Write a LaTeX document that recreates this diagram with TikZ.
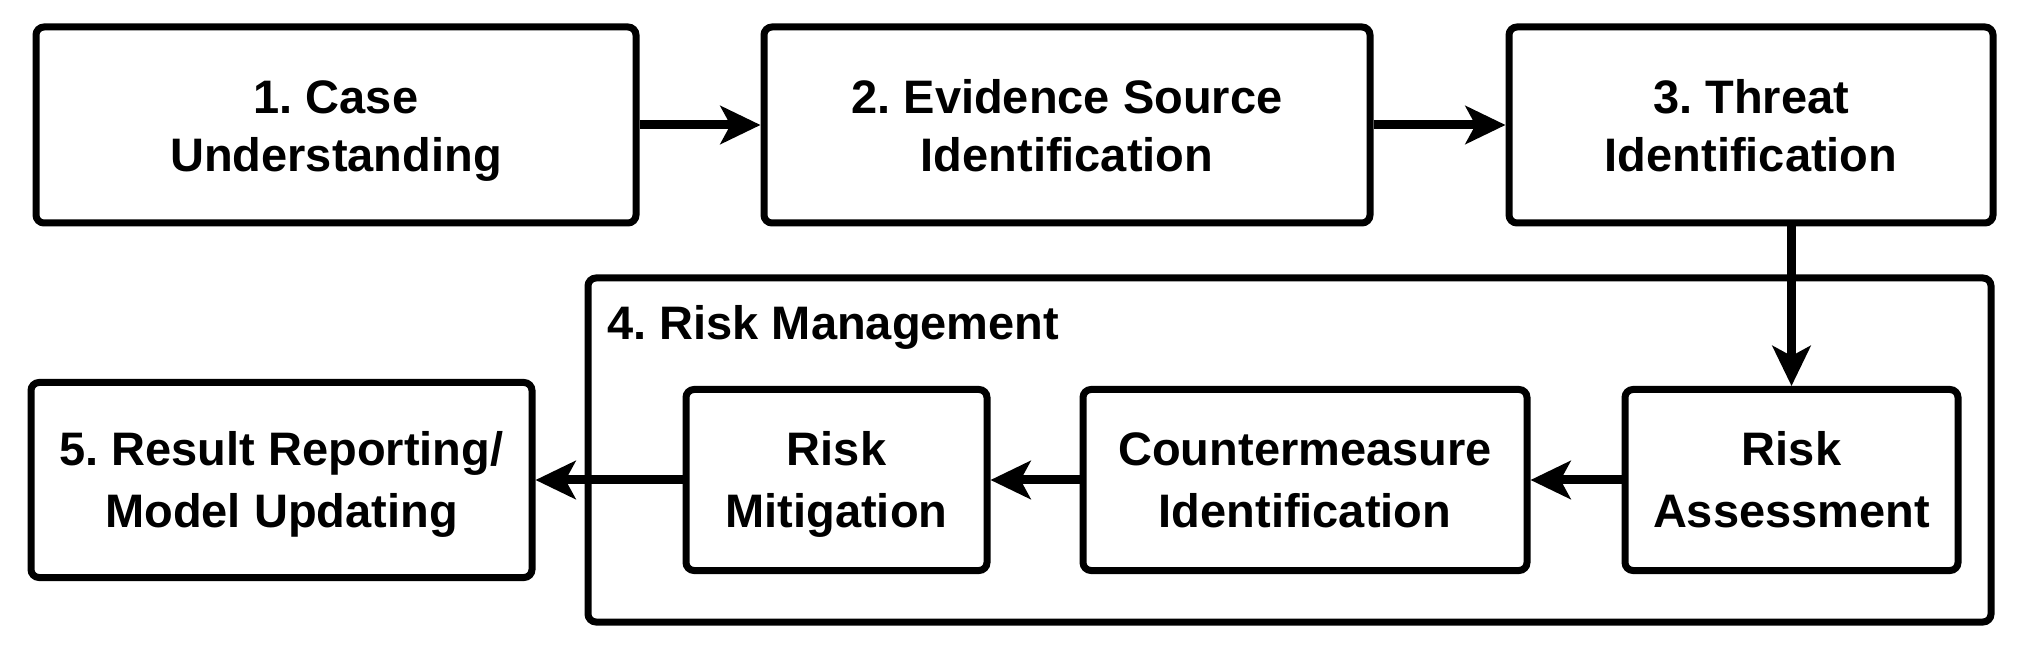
\documentclass[tikz,border=0pt]{standalone}
\usepackage{fontspec}
\setmainfont{Liberation Sans}
\usetikzlibrary{arrows.meta}
\frenchspacing
\newcommand\toptext[2]{\raisebox{0pt}[20pt][31pt]{\begin{tabular}[t]{@{}c@{}}#1\\#2\end{tabular}}}
\newcommand\bottext[2]{\raisebox{0pt}[20pt][34pt]{\begin{tabular}[t]{@{}c@{}}#1\\[2pt]#2\end{tabular}}}
\tikzset{
  stagebox/.style={draw=black, line width=3.5pt, rounded corners=4pt, fill=white,
    inner sep=0pt, font=\fontsize{23.5pt}{29pt}\selectfont\bfseries\frenchspacing},
  groupbox/.style={draw=black, line width=3.5pt, rounded corners=4pt, fill=white, inner sep=0pt},
  grouplabel/.style={inner sep=0pt, font=\fontsize{23.5pt}{29pt}\selectfont\bfseries\frenchspacing},
  flow/.style={line width=4.5pt, -{Stealth[length=20pt,width=19pt,inset=5pt]}}
}
\begin{document}
\begin{tikzpicture}[x=0.5pt,y=-0.5pt]
\useasboundingbox (0,0) rectangle (2022,651);
% group box
\node[groupbox, minimum width=1403*0.5pt, minimum height=344*0.5pt] (rm) at (1289.5,450) {};
\node[grouplabel, anchor=base west] (rmt) at (607,340) {4. Risk Management};
% top row
\node[stagebox, minimum width=300pt, minimum height=98pt] (b1) at (336,125) {\toptext{1. Case}{Understanding}};
\node[stagebox, minimum width=303pt, minimum height=98pt] (b2) at (1067,125) {\toptext{2. Evidence Source}{Identification}};
\node[stagebox, minimum width=242pt, minimum height=98pt] (b3) at (1751,125) {\toptext{3. Threat}{Identification}};
% bottom row
\node[stagebox, minimum width=250.5pt, minimum height=97.5pt] (b5) at (281.5,480) {\bottext{5. Result Reporting/}{Model Updating}};
\node[stagebox, minimum width=150.5pt, minimum height=90.5pt] (mit) at (836.5,480) {\bottext{Risk}{Mitigation}};
\node[stagebox, minimum width=222pt, minimum height=90.5pt] (cm) at (1305,480) {\bottext{Countermeasure}{Identification}};
\node[stagebox, minimum width=166.5pt, minimum height=90.5pt] (ra) at (1791.5,480) {\bottext{Risk}{Assessment}};
% connectors
\draw[flow] (b1) -- (b2);
\draw[flow] (b2) -- (b3);
\draw[flow] (b3.south -| ra.north) -- (ra.north);
\draw[flow] (ra) -- (cm);
\draw[flow] (cm) -- (mit);
\draw[flow] (mit) -- (b5);
\end{tikzpicture}
\end{document}
